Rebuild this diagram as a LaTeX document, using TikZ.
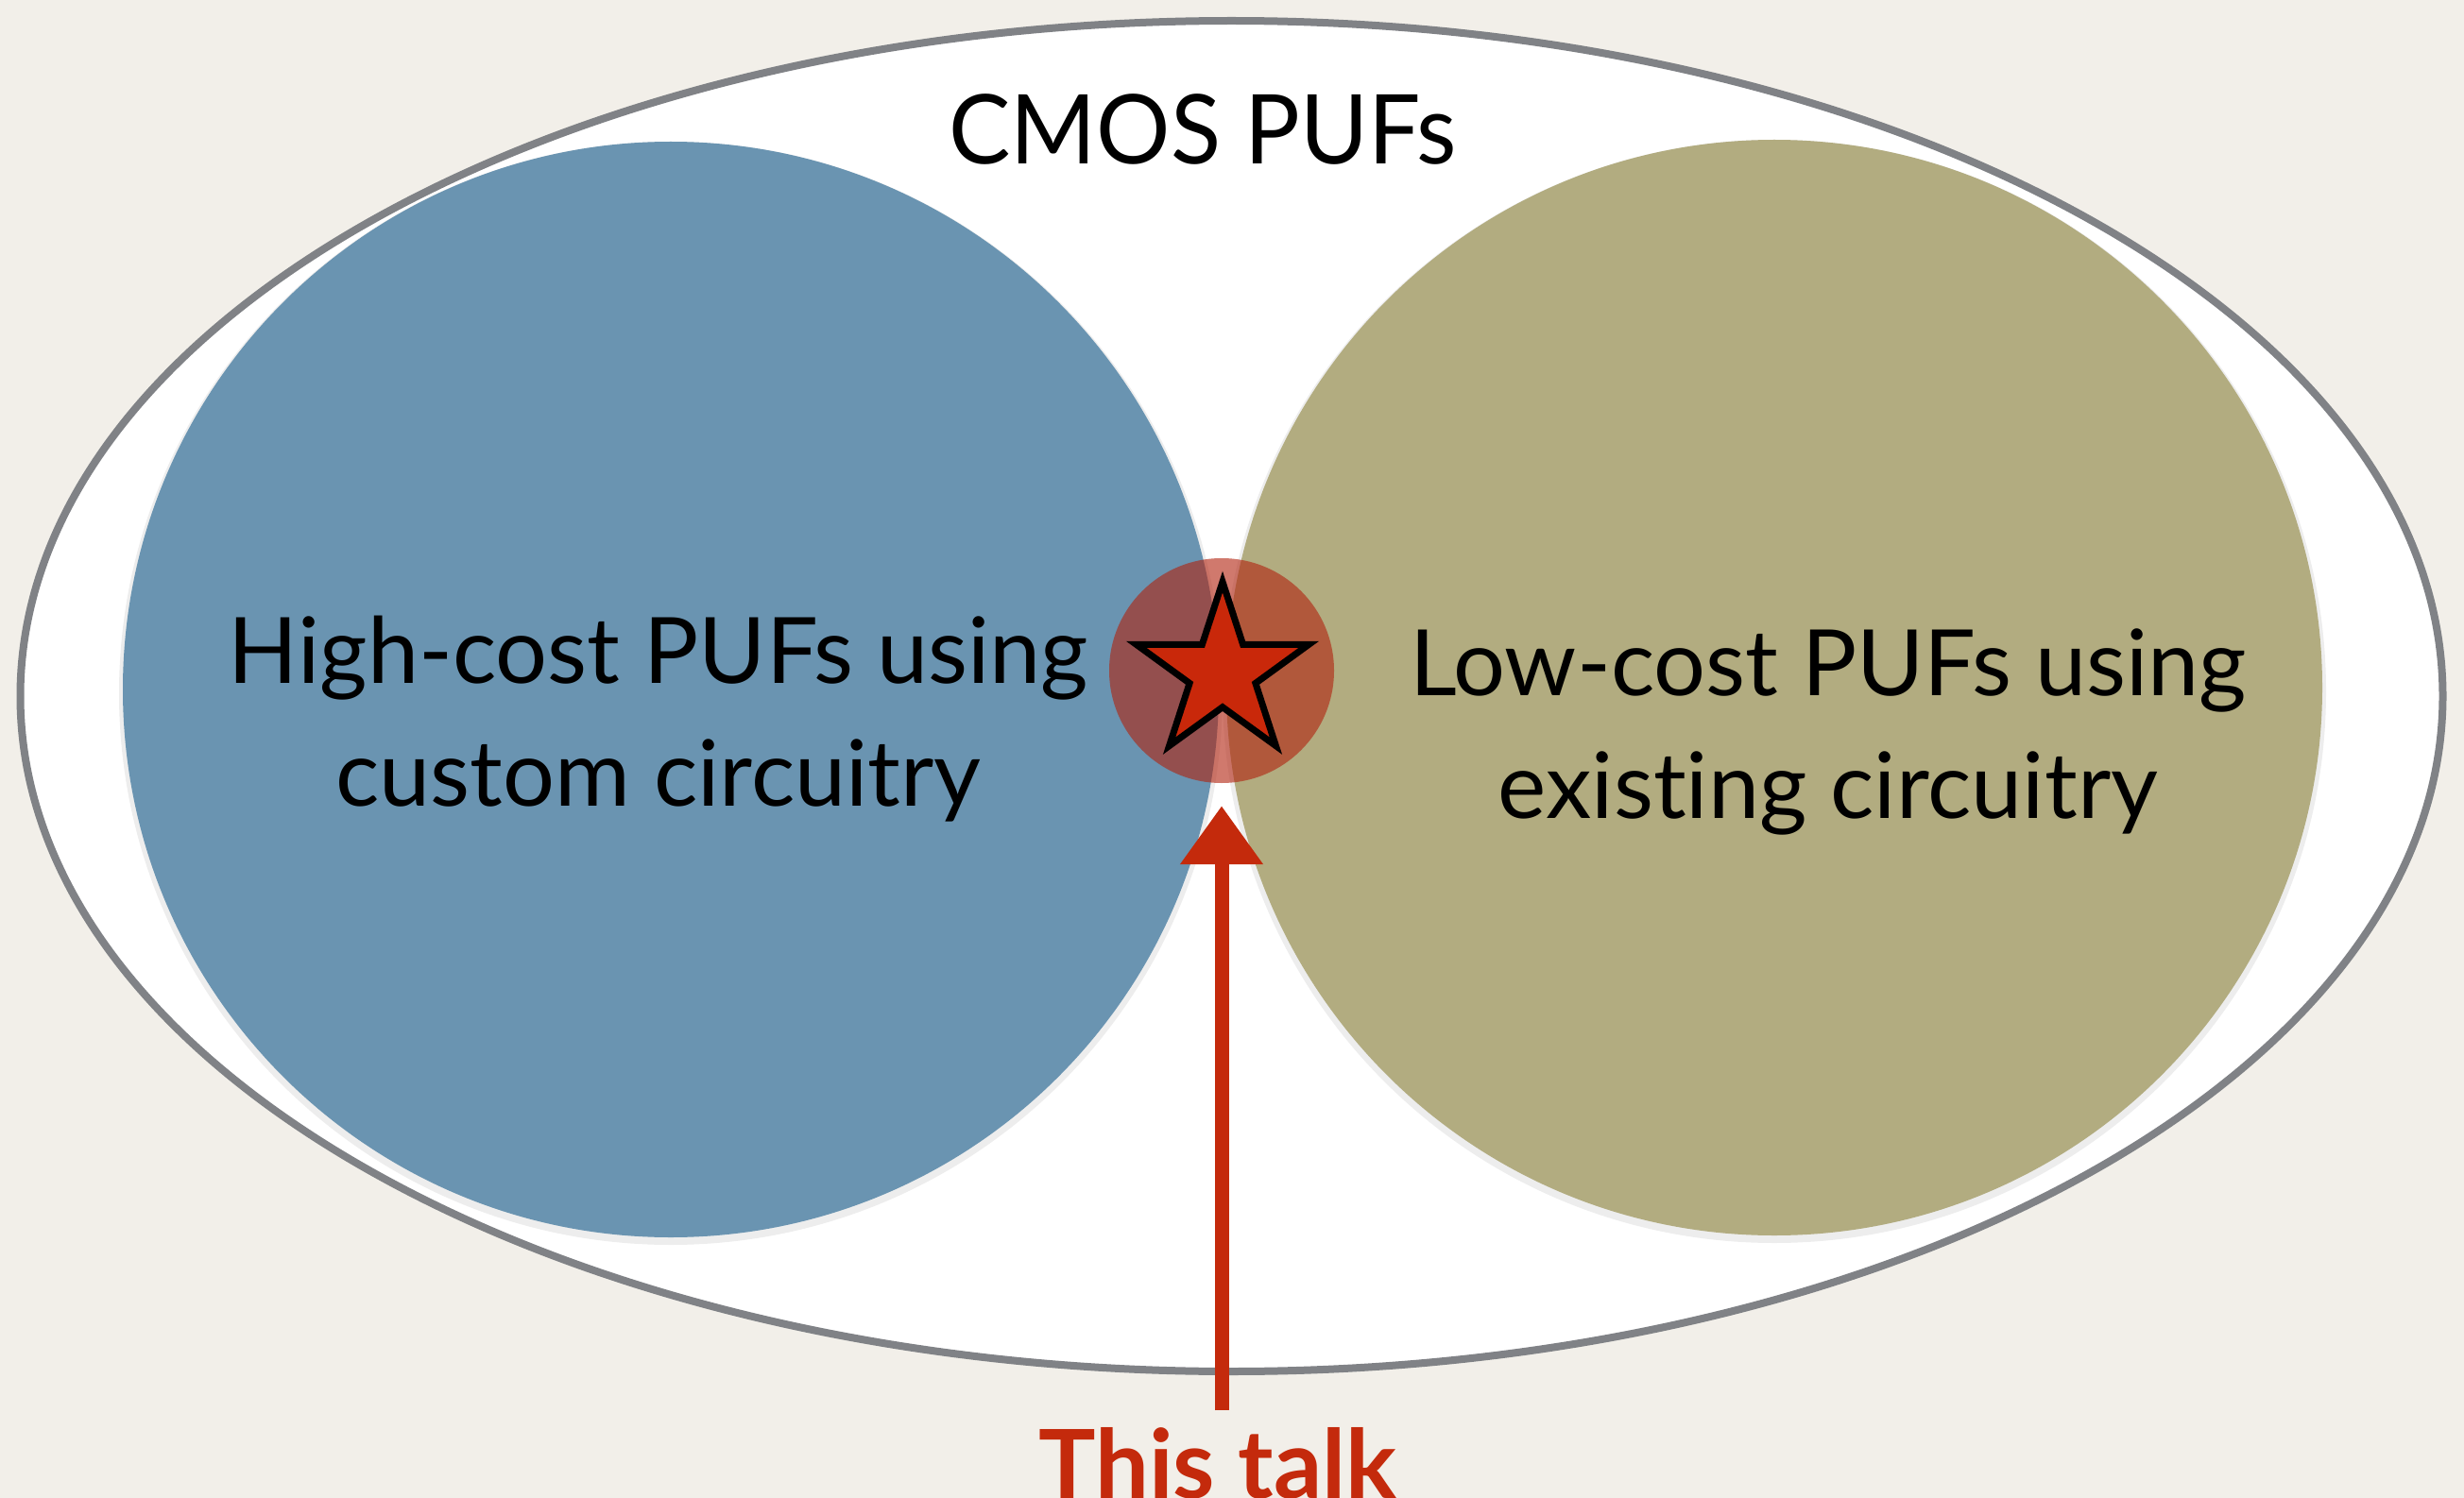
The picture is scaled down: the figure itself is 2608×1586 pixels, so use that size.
\documentclass[tikz,border=0pt]{standalone}
\usepackage{fontspec}
\setmainfont{Lato}[Ligatures=NoCommon]
\newfontfamily\titlefont{Lato}[Ligatures=NoCommon,FakeStretch=0.96]
\usetikzlibrary{shapes.geometric,arrows.meta,decorations.pathmorphing}
\definecolor{paper}{HTML}{F2EFE9}
\definecolor{pufblue}{HTML}{6A94B1}
\definecolor{pufolive}{HTML}{B2AC80}
\definecolor{hubred}{HTML}{B1210D}
\definecolor{starred}{HTML}{C9280A}
\definecolor{pencil}{HTML}{808286}
\definecolor{talkred}{HTML}{C42A0C}
\begin{document}
\begin{tikzpicture}[x=1pt,y=-1pt,
  lab/.style={font=\fontsize{97}{130}\selectfont, align=center, inner sep=0pt, text=black},
  puf/.style={circle, minimum size=1160pt, inner sep=0pt},
  halo/.style={black, opacity=0.07},
  crayon/.style={pencil, line width=3pt, decorate, decoration={random steps, segment length=5pt, amplitude=1.5pt}}]
\fill[paper] (0,0) rectangle (2608,1586);
\useasboundingbox (0,0) rectangle (2608,1586);
% outer CMOS ellipse
\node[ellipse, draw=pencil, line width=8pt, fill=white, minimum width=2564pt, minimum height=1430pt, inner sep=0pt] (cmos) at (1303.5,737) {};
\draw[crayon] (cmos.center) ellipse [x radius=1282, y radius=715];
% soft shadows
\fill[halo] (710,734) circle [radius=584];
\fill[halo] (1878,732) circle [radius=584];
% the two families
\node[puf, fill=pufblue] (high) at (710,730) {};
\node[puf, fill=pufolive] (low) at (1878,728) {};
% overlap hub with star
\node[circle, fill=hubred, fill opacity=0.6, minimum size=238pt, inner sep=0pt] (hub) at (1293,710) {};
\draw[fill=starred, line width=7pt, line join=miter, shift={(hub.center)}, shift={(1,2)}]
  (-90:96) -- (-54:36.7) -- (-18:96) -- (18:36.7) -- (54:96) -- (90:36.7)
  -- (126:96) -- (162:36.7) -- (198:96) -- (234:36.7) -- cycle;
% labels
\node[lab, font=\titlefont\fontsize{102}{126}\selectfont, anchor=base] (title) at (1273,174) {CMOS PUFs};
\node[lab, anchor=base] (hightxt) at (697,853) {High-cost PUFs using\\custom circuitry};
\node[lab, anchor=base] (lowtxt) at (1935,866) {Low-cost PUFs using\\existing circuitry};
% arrow to this talk
\coordinate (tail) at (1293,1493);
\draw[talkred, line width=15pt, -{Triangle[width=84pt,length=62pt]}, shorten >=24pt] (tail) -- (hub.south);
\node[font=\fontsize{101}{120}\selectfont\bfseries, text=talkred, anchor=base, inner sep=0pt] (talk) at (1289,1586) {This talk};
\end{tikzpicture}
\end{document}
